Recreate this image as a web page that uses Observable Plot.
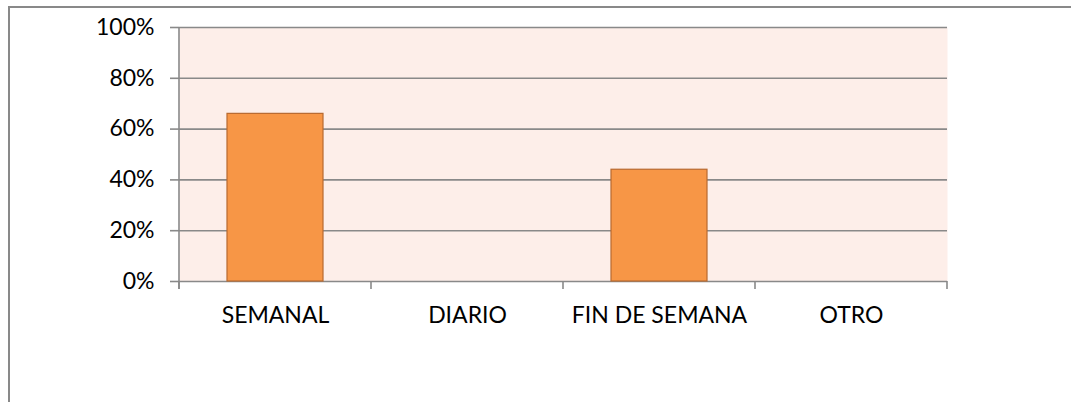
<!DOCTYPE html>
<html>
<head>
<meta charset="utf-8">
<script src="https://cdn.jsdelivr.net/npm/d3@7"></script>
<script src="https://cdn.jsdelivr.net/npm/@observablehq/plot@0.6"></script>
<style>
  html, body { margin: 0; padding: 0; background: #fff; overflow: hidden; }
  #wrap { position: relative; width: 1071px; height: 402px; }
  #border { position: absolute; left: 8px; top: 6px; width: 1200px; height: 600px;
            border-top: 2px solid #898989; border-left: 2px solid #898989; box-sizing: border-box; }
  #chart { position: absolute; left: 0; top: 0; }
</style>
</head>
<body>
<div id="wrap"><div id="border"></div><div id="chart"></div></div>
<script>
const categories = ["SEMANAL", "DIARIO", "FIN DE SEMANA", "OTRO"];
const values = [0.66, 0, 0.44, 0];
const yTicks = [0, 0.2, 0.4, 0.6, 0.8, 1.0];

const data = categories.map((c, i) => ({cat: c, value: values[i]}));
const gridColor = "#898989";

const chart = Plot.plot({
  width: 1071,
  height: 402,
  marginLeft: 179,
  marginRight: 124,
  marginTop: 27,
  marginBottom: 121,
  style: {fontFamily: "Lato", fontSize: "23px", color: "#000", background: "transparent"},
  x: {domain: categories, paddingInner: 0.5, paddingOuter: 0.25, label: null},
  y: {domain: [0, 1], label: null},
  marks: [
    Plot.frame({fill: "#fdeee9", stroke: null}),
    Plot.gridY(yTicks, {stroke: gridColor, strokeOpacity: 1, strokeWidth: 1.6}),
    Plot.axisY({ticks: yTicks, tickFormat: d3.format(".0%"), tickSize: 9, tickPadding: 16,
                stroke: gridColor, strokeWidth: 1.6, label: null, fill: "#000"}),
    Plot.axisX({tickSize: 0, tickPadding: 25, label: null, fill: "#000"}),
    Plot.barY(data.filter(d => d.value > 0), {x: "cat", y: "value", fill: "#f79646", stroke: "#b8692f", strokeWidth: 1.2})
  ]
});

document.getElementById("chart").appendChild(chart);

// category boundary ticks and left axis line, from the plot's own scales
const sx = chart.scale("x");
const sy = chart.scale("y");
const half = (sx.step - sx.bandwidth) / 2;
const bounds = categories.map(c => sx.apply(c) - half);
bounds.push(sx.apply(categories[categories.length - 1]) + sx.bandwidth + half);
const y0 = sy.apply(0), y1 = sy.apply(1);
const g = d3.select(chart).append("g").attr("stroke", gridColor).attr("stroke-width", 1.6);
g.selectAll("line.b").data(bounds).join("line")
  .attr("x1", d => d).attr("x2", d => d).attr("y1", y0).attr("y2", y0 + 8);
g.append("line").attr("x1", bounds[0]).attr("x2", bounds[0]).attr("y1", y1).attr("y2", y0 + 8);
</script>
</body>
</html>
